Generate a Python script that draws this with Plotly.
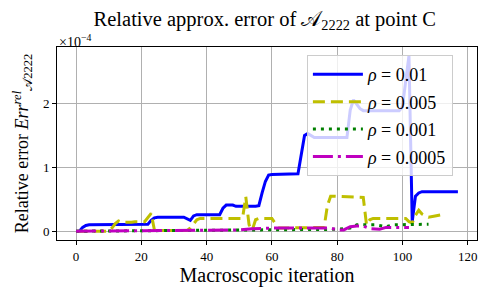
import plotly.graph_objects as go

# ---- data (relative error, units of 1e-4 converted below) ----
iter_01 = [0, 1, 2, 3, 4, 13, 14, 22, 23, 24, 25, 33, 35, 36, 37, 44, 45, 46, 48, 49, 55, 56, 57, 58, 59, 60,
           68, 69, 70, 71, 72, 73, 83, 84, 85, 86, 87, 88, 99, 100, 101, 102, 103, 104, 105, 106, 117]
err_01 = [0, 0, 0.06, 0.09, 0.1, 0.1, 0.11, 0.11, 0.17, 0.21, 0.22, 0.22, 0.17, 0.24, 0.26, 0.26, 0.36, 0.41, 0.41, 0.39, 0.39, 0.4, 0.6, 0.78, 0.88, 0.89,
          0.9, 1.2, 1.5, 1.53, 1.5, 1.47, 1.47, 1.9, 2.06, 1.98, 1.92, 1.89, 1.89, 1.95, 2.4, 2.75, 0.15, 0.55, 0.6, 0.62, 0.62]

iter_005 = [0, 10, 11, 12, 13, 14, 17, 18, 21, 22, 23, 24, 25, 34, 35, 37, 38, 51, 52, 53, 54, 55, 56, 60, 62, 63,
            76, 77, 78, 79, 88, 89, 90, 91, 101, 102, 103, 104, 105, 106, 108, 110, 113]
err_005 = [0, 0, 0.05, 0.12, 0.16, 0.14, 0.14, 0.15, 0.15, 0.22, 0.28, 0.02, 0.01, 0.01, 0.05, 0.18, 0.2, 0.2, 0.54, 0.1, 0.02, 0.18, 0.2, 0.2, 0.05, 0.05,
           0.06, 0.4, 0.55, 0.55, 0.53, 0.1, 0.18, 0.2, 0.2, 0.15, 0.13, 0.25, 0.33, 0.27, 0.22, 0.24, 0.27]

iter_001 = [0, 20, 40, 60, 70, 80, 84, 85, 86, 92, 95, 97, 108]
err_001 = [0, 0.005, 0.01, 0.015, 0.02, 0.03, 0.05, 0.08, 0.1, 0.1, 0.07, 0.1, 0.11]

iter_0005 = [0, 30, 50, 54, 60, 78, 80, 82, 84, 86, 88, 90, 93, 95, 102]
err_0005 = [0, 0.01, 0.02, 0.04, 0.05, 0.05, 0.02, 0.02, 0.07, 0.08, 0.08, 0.04, 0.03, 0.06, 0.06]

labels = ["<i>ρ</i> = 0.01", "<i>ρ</i> = 0.005", "<i>ρ</i> = 0.001", "<i>ρ</i> = 0.0005"]
y_ticks = [0, 1, 2]
x_ticks = [0, 20, 40, 60, 80, 100, 120]

SCALE = 1e-4
FONT = "Liberation Serif, DejaVu Serif, serif"

fig = go.Figure()
series = [
    (iter_01, err_01, "#0000ff", "solid"),
    (iter_005, err_005, "#bfbf00", "12px,6px"),
    (iter_001, err_001, "#008000", "3px,5px"),
    (iter_0005, err_0005, "#bf00bf", "20px,5px,3px,5px"),
]
for i, ((xs, ys, col, dash), lab) in enumerate(zip(series, labels)):
    fig.add_trace(go.Scatter(x=xs, y=[v * SCALE for v in ys], mode="lines", name=lab,
                             legendgroup=f"g{i}",
                             line=dict(color=col, width=3, dash=dash)))

fig.update_layout(
    width=480, height=288,
    margin=dict(l=49, r=11, t=39, b=56),
    paper_bgcolor="white", plot_bgcolor="white",
    font=dict(family=FONT, color="black", size=13),
    title=dict(text="Relative approx. error of 𝒜<sub>2222</sub> at point C",
               x=0.535, xanchor="center", y=0.962, yanchor="middle",
               font=dict(size=20.5, family=FONT)),
    legend=dict(x=0.595, y=0.958, xanchor="left", yanchor="top",
                bgcolor="rgba(255,255,255,0.8)", bordercolor="#cccccc", borderwidth=1,
                tracegroupgap=1, itemwidth=50,
                font=dict(size=18, family=FONT)),
    showlegend=True,
)
fig.update_xaxes(range=[-5.85, 122.85], tickvals=x_ticks, ticktext=[str(t) for t in x_ticks],
                 automargin=False,
                 showgrid=True, gridcolor="#b0b0b0", gridwidth=1, zeroline=False,
                 showline=True, linecolor="black", linewidth=1, mirror=True,
                 ticks="outside", ticklen=4, tickcolor="black", tickfont=dict(size=13, family=FONT),
                 title=dict(text="Macroscopic iteration", font=dict(size=20, family=FONT), standoff=4))
fig.update_yaxes(range=[-0.1375 * SCALE, 2.8875 * SCALE], tickvals=[t * SCALE for t in y_ticks],
                 ticktext=[str(t) for t in y_ticks], automargin=False,
                 showgrid=True, gridcolor="#b0b0b0", gridwidth=1, zeroline=False,
                 showline=True, linecolor="black", linewidth=1, mirror=True,
                 ticks="outside", ticklen=4, tickcolor="black", tickfont=dict(size=13, family=FONT),
                 title=dict(text="Relative error <i>Err</i><sup><i>rel</i></sup><sub>𝒜2222</sub>",
                            font=dict(size=18, family=FONT), standoff=9))
fig.add_annotation(text="×10<sup>−4</sup>", xref="paper", yref="paper", x=0, y=1,
                   xanchor="left", yanchor="bottom", showarrow=False, font=dict(size=14, family=FONT),
                   yshift=-5)

fig.write_html("out.html")
